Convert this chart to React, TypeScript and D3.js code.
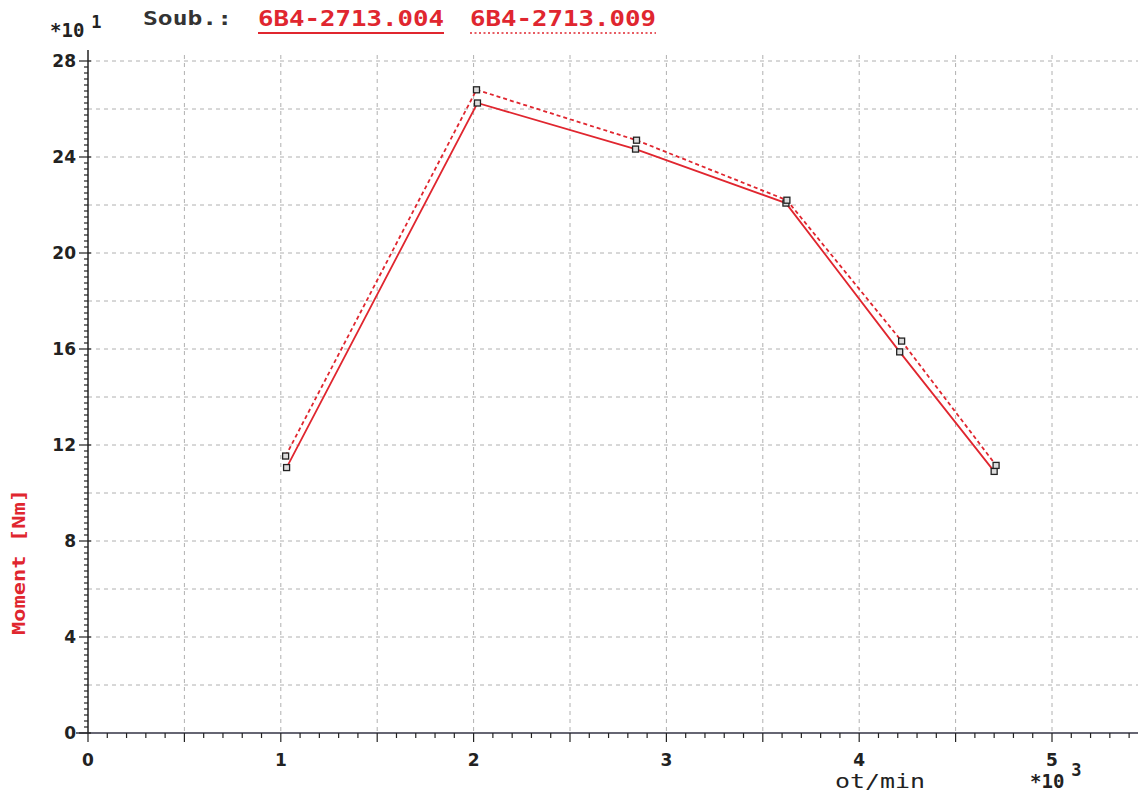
import * as d3 from "d3";
import { useEffect, useRef } from "react";

// rpm, moment (x10 Nm)
const rpm004 = [1030, 2020, 2840, 3620, 4210, 4700];
const mom004 = [11.06, 26.25, 24.33, 22.08, 15.88, 10.9];
const rpm009 = [1025, 2015, 2845, 3625, 4220, 4710];
const mom009 = [11.54, 26.8, 24.7, 22.2, 16.33, 11.15];

const yTicks = [0, 4, 8, 12, 16, 20, 24, 28];
const xTicks = [0, 1000, 2000, 3000, 4000, 5000];
const series = ["6B4-2713.004", "6B4-2713.009"];

const RED = "#e0262f";

export default function App() {
    const svgRef = useRef<SVGSVGElement | null>(null);

    useEffect(() => {
        if (!svgRef.current) return;
        const svg = d3.select(svgRef.current);
        svg.selectAll("*").remove();

        const W = 1138;
        const H = 792;
        const left = 88;
        const bottom = 733;

        const x = d3.scaleLinear().domain([0, 5000]).range([left, 1052]);
        const y = d3.scaleLinear().domain([0, 28]).range([bottom, 61]);

        svg.append("rect").attr("width", W).attr("height", H).attr("fill", "#fff");

        const mono = "'DejaVu Sans Mono', monospace";

        // grid
        const grid = svg.append("g").attr("stroke", "#b0b0b0").attr("stroke-dasharray", "4,4").attr("stroke-width", 1);
        d3.range(500, 5500, 500).forEach((v) => {
            grid.append("line").attr("x1", x(v)).attr("x2", x(v)).attr("y1", 55).attr("y2", bottom);
        });
        d3.range(2, 29, 2).forEach((v) => {
            grid.append("line").attr("x1", left).attr("x2", W).attr("y1", y(v)).attr("y2", y(v));
        });

        // axes
        const ax = svg.append("g").attr("stroke", "#222").attr("stroke-width", 1.5);
        ax.append("line").attr("x1", left).attr("x2", left).attr("y1", 50).attr("y2", bottom);
        ax.append("line").attr("x1", 76).attr("x2", W).attr("y1", bottom).attr("y2", bottom).attr("stroke", "#334");

        d3.range(0, 28.01, 0.25).forEach((v) => {
            const major = Math.abs(v % 4) < 1e-6;
            ax.append("line")
                .attr("x1", left - (major ? 9 : 4))
                .attr("x2", left + (major ? 3 : 0))
                .attr("y1", y(v))
                .attr("y2", y(v))
                .attr("stroke-width", 1.2);
        });
        d3.range(0, 5450, 100).forEach((v) => {
            const major = v % 500 === 0;
            ax.append("line")
                .attr("x1", x(v))
                .attr("x2", x(v))
                .attr("y1", bottom)
                .attr("y2", bottom + (major ? 9 : 5))
                .attr("stroke-width", 1.2);
        });

        svg.selectAll(".ylab")
            .data(yTicks)
            .enter()
            .append("text")
            .attr("x", left - 12)
            .attr("y", (d) => y(d) + 6)
            .attr("text-anchor", "end")
            .attr("font-family", "'DejaVu Sans', sans-serif")
            .attr("font-weight", "bold")
            .attr("font-size", 17)
            .attr("fill", "#222")
            .text((d) => String(d));

        svg.selectAll(".xlab")
            .data(xTicks)
            .enter()
            .append("text")
            .attr("x", (d) => x(d))
            .attr("y", 766)
            .attr("text-anchor", "middle")
            .attr("font-family", "'DejaVu Sans', sans-serif")
            .attr("font-weight", "bold")
            .attr("font-size", 17)
            .attr("fill", "#222")
            .text((d) => String(d / 1000));

        // axis titles & multipliers
        const t1 = svg.append("text").attr("x", 50).attr("y", 37).attr("font-family", mono).attr("font-weight", "bold").attr("font-size", 19).attr("fill", "#222");
        t1.append("tspan").text("*10");
        t1.append("tspan").attr("dx", 7).attr("dy", -9).attr("font-size", 17).text("1");

        const t3 = svg.append("text").attr("x", 1030).attr("y", 788).attr("font-family", mono).attr("font-weight", "bold").attr("font-size", 19).attr("fill", "#222");
        t3.append("tspan").text("*10");
        t3.append("tspan").attr("dx", 7).attr("dy", -12).attr("font-size", 17).text("3");

        svg.append("text")
            .attr("x", 835).attr("y", 788)
            .attr("font-family", mono).attr("font-size", 20).attr("fill", "#222")
            .attr("textLength", 90).attr("lengthAdjust", "spacingAndGlyphs")
            .text("ot/min");

        svg.append("text")
            .attr("transform", `translate(25,${562}) rotate(-90)`)
            .attr("text-anchor", "middle")
            .attr("font-family", mono)
            .attr("font-weight", "bold")
            .attr("font-size", 18)
            .attr("fill", RED)
            .attr("textLength", 146).attr("lengthAdjust", "spacingAndGlyphs")
            .text("Moment [Nm]");

        // legend header
        svg.append("text")
            .attr("x", 143).attr("y", 25)
            .attr("font-family", mono).attr("font-weight", "bold").attr("font-size", 19).attr("fill", "#333")
            .attr("textLength", 89).attr("lengthAdjust", "spacingAndGlyphs")
            .text("Soub.:");
        const legX = [258, 470];
        series.forEach((s, i) => {
            svg.append("text")
                .attr("x", legX[i]).attr("y", 26)
                .attr("font-family", mono).attr("font-weight", "bold").attr("font-size", 21).attr("fill", RED)
                .attr("textLength", 186).attr("lengthAdjust", "spacingAndGlyphs")
                .text(s);
            svg.append("line")
                .attr("x1", legX[i])
                .attr("x2", legX[i] + 186)
                .attr("y1", 33)
                .attr("y2", 33)
                .attr("stroke", RED)
                .attr("stroke-width", i === 0 ? 2 : 1.5)
                .attr("stroke-dasharray", i === 0 ? null : "2,2.5");
        });

        // series
        const data = [
            { rpm: rpm004, mom: mom004, dash: null as string | null },
            { rpm: rpm009, mom: mom009, dash: "4,3" },
        ];
        data.forEach((s) => {
            const pts = s.rpm.map((r, i) => [x(r), y(s.mom[i])] as [number, number]);
            svg.append("path")
                .attr("d", d3.line()(pts))
                .attr("fill", "none")
                .attr("stroke", RED)
                .attr("stroke-width", 1.8)
                .attr("stroke-dasharray", s.dash);
            svg.append("g")
                .selectAll("rect")
                .data(pts)
                .enter()
                .append("rect")
                .attr("x", (d) => d[0] - 3)
                .attr("y", (d) => d[1] - 3)
                .attr("width", 6)
                .attr("height", 6)
                .attr("fill", "#ddd")
                .attr("stroke", "#222")
                .attr("stroke-width", 1.3);
        });
    }, []);

    return (
        <svg
            ref={svgRef}
            width={1138}
            height={792}
            style={{ position: "absolute", left: 0, top: 0, display: "block" }}
        />
    );
}
